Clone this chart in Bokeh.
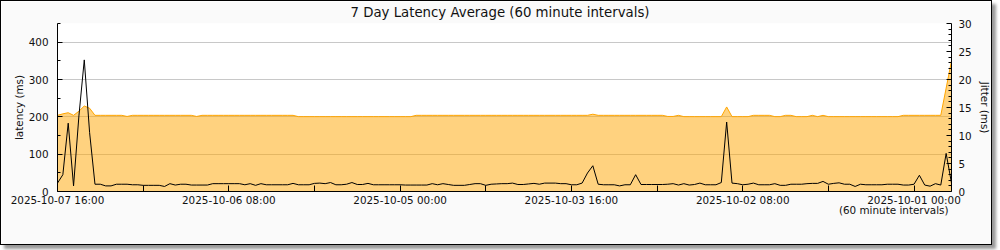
import pandas as pd
from bokeh.plotting import figure
from bokeh.models import (Range1d, LinearAxis, FixedTicker, DatetimeTickFormatter,
                          Title, ColumnDataSource)
from bokeh.embed import file_html
from bokeh.resources import INLINE

# ---- data (hourly, newest on the left) ----
times = pd.date_range(end="2025-10-07 16:00", periods=168, freq="h")[::-1]

latency = [
    204, 208, 211, 204, 215, 229, 223, 204, 204, 204,
    204, 204, 204, 201, 204, 204, 204, 204, 204, 204,
    204, 204, 204, 204, 204, 204, 201, 204, 204, 204,
    204, 204, 204, 204, 204, 204, 204, 204, 204, 204,
    204, 204, 204, 204, 204, 200.5, 200.5, 200.5, 200.5, 200.5,
    200.5, 200.5, 200.5, 200.5, 200.5, 200.5, 200.5, 200.5, 200.5, 200.5,
    200.5, 200.5, 200.5, 200.5, 200.5, 200.5, 200.5, 204, 204, 204,
    204, 204, 204, 204, 204, 204, 204, 204, 204, 204,
    204, 204, 204, 204, 204, 204, 204, 204, 204, 204,
    204, 204, 204, 204, 204, 204, 204, 204, 204, 204,
    207, 204, 204, 204, 204, 204, 204, 204, 204, 204,
    204, 204, 204, 204, 201, 201, 204, 200.5, 200.5, 200.5,
    200.5, 200.5, 200.5, 200.5, 200.5, 226.5, 200.5, 200.5, 200.5, 200.5,
    204, 204, 204, 204, 200.5, 200.5, 204, 204, 200.5, 200.5,
    200.5, 204, 200.5, 204, 200.5, 200.5, 200.5, 200.5, 200.5, 200.5,
    200.5, 200.5, 200.5, 200.5, 200.5, 200.5, 200.5, 200.5, 204, 204,
    204, 204, 204, 204, 204, 204, 277, 350,
]

jitter = [
    1.5, 3.0, 12.2, 1.0, 13.5, 23.5, 10.5, 1.3, 1.3, 1.0,
    1.0, 1.3, 1.3, 1.3, 1.2, 1.2, 1.1, 1.1, 1.1, 1.1,
    0.9, 1.4, 1.15, 1.3, 1.3, 1.15, 1.15, 1.15, 1.15, 1.4,
    1.4, 1.4, 1.4, 1.4, 1.4, 1.2, 1.4, 1.1, 1.4, 1.2,
    1.2, 1.2, 1.2, 1.2, 1.45, 1.2, 1.2, 1.2, 1.45, 1.5,
    1.4, 1.6, 1.2, 1.2, 1.3, 1.6, 1.25, 1.25, 1.45, 1.2,
    1.2, 1.2, 1.2, 1.2, 1.2, 1.15, 1.15, 1.15, 1.15, 1.15,
    1.4, 1.2, 1.4, 1.25, 1.1, 1.1, 1.1, 1.25, 1.4, 1.4,
    1.1, 1.3, 1.35, 1.4, 1.4, 1.5, 1.25, 1.25, 1.35, 1.45,
    1.3, 1.5, 1.5, 1.5, 1.4, 1.4, 1.2, 1.2, 1.5, 3.3,
    4.6, 1.3, 1.2, 1.2, 1.2, 1.0, 1.2, 1.2, 3.0, 1.25,
    1.25, 1.25, 1.25, 1.25, 1.3, 1.4, 1.15, 1.4, 1.15, 1.25,
    1.5, 1.2, 1.2, 1.2, 1.6, 12.4, 1.5, 1.4, 1.2, 1.3,
    1.5, 1.2, 1.2, 1.2, 1.4, 1.1, 1.1, 1.3, 1.3, 1.3,
    1.4, 1.45, 1.45, 1.8, 1.3, 1.45, 1.55, 1.3, 1.3, 0.9,
    1.3, 1.2, 1.2, 1.2, 1.2, 1.3, 1.3, 1.3, 1.15, 1.15,
    1.3, 2.9, 1.15, 0.95, 1.4, 1.15, 6.8, 1.5,
]

x_label_times = ["2025-10-07 16:00", "2025-10-06 08:00", "2025-10-05 00:00",
                 "2025-10-03 16:00", "2025-10-02 08:00", "2025-10-01 00:00"]
x_minor_times = ["2025-10-07 00:00", "2025-10-05 16:00", "2025-10-04 08:00",
                 "2025-10-03 00:00", "2025-10-01 16:00"]
lat_ticks = [0, 100, 200, 300, 400]
lat_minor = [50, 150, 250, 350, 450]
jit_ticks = [0, 5, 10, 15, 20, 25, 30]
jit_minor = [v for v in range(0, 31) if v % 5 != 0]

FONT = "DejaVu Sans"
FS = "10.4px"
TXT = "#111111"

def ms(s):
    return pd.Timestamp(s).value / 1e6

src = ColumnDataSource(dict(t=times, lat=latency, jit=jitter))

p = figure(width=992, height=245, x_axis_type="datetime",
           x_range=Range1d(times[0], times[-1]), y_range=Range1d(0, 450),
           output_backend="svg", toolbar_location=None,
           min_border_left=56, min_border_right=42, min_border_top=22,
           min_border_bottom=55,
           background_fill_color="white", border_fill_color="#FAFAFA",
           outline_line_color=None,
           styles={"border": "1px solid black",
                   "box-shadow": "4px 4px 3px #999999"})
p.extra_y_ranges = {"jitter": Range1d(0, 30)}

p.title.text = "7 Day Latency Average (60 minute intervals)"
p.title.align = "left"
p.title.offset = 293
p.title.vertical_align = "top"
p.title.text_font = FONT
p.title.text_font_size = "13.3px"
p.title.text_font_style = "normal"
p.title.text_color = TXT
p.title.standoff = 3

p.varea(x="t", y1=0, y2="lat", source=src, fill_color="#FFA500", fill_alpha=0.5)
p.line(x="t", y="lat", source=src, line_color="#FFA500", line_width=1)
p.line(x="t", y="jit", source=src, y_range_name="jitter", line_color="black",
       line_width=1)

# x axis
xa = p.xaxis[0]
xa.ticker = FixedTicker(ticks=[ms(s) for s in x_label_times],
                        minor_ticks=[ms(s) for s in x_minor_times])
fmt = "%Y-%m-%d %H:%M"
xa.formatter = DatetimeTickFormatter(microseconds=fmt, milliseconds=fmt, seconds=fmt,
                                     minsec=fmt, minutes=fmt, hourmin=fmt, hours=fmt,
                                     days=fmt, months=fmt, years=fmt)
# left axis
ya = p.yaxis[0]
ya.ticker = FixedTicker(ticks=lat_ticks, minor_ticks=lat_minor)
ya.axis_label = "latency (ms)"

ra = LinearAxis(y_range_name="jitter",
                ticker=FixedTicker(ticks=jit_ticks, minor_ticks=jit_minor),
                axis_label="Jitter (ms)", axis_label_orientation="vertical")
p.add_layout(ra, "right")

for ax in (xa, ya, ra):
    ax.axis_line_color = "black"
    ax.major_tick_line_color = "black"
    ax.minor_tick_line_color = "black"
    ax.major_tick_out = 0
    ax.minor_tick_out = 0
    ax.major_label_text_font = FONT
    ax.major_label_text_font_size = FS
    ax.major_label_text_color = TXT
    ax.axis_label_text_font = FONT
    ax.axis_label_text_font_size = FS
    ax.axis_label_text_font_style = "normal"
    ax.axis_label_text_color = TXT

xa.major_tick_in = 6
xa.minor_tick_in = 6
xa.major_label_standoff = 2
ya.major_tick_in = 5
ya.minor_tick_in = 3
ya.major_label_standoff = 9
ya.axis_label_standoff = 1
ra.major_tick_in = 5
ra.minor_tick_in = 3
ra.major_label_standoff = 7
ra.axis_label_standoff = 4

p.xgrid.visible = False
p.ygrid.grid_line_color = "#C8C8C8"
p.ygrid.ticker = FixedTicker(ticks=[100, 200, 300, 400])

foot = Title(text="(60 minute intervals)", align="right", offset=3,
             vertical_align="top", text_font=FONT,
             text_font_size=FS, text_font_style="normal", text_color=TXT)
try:
    foot.standoff = -10
except Exception:
    foot.standoff = 0
p.add_layout(foot, "below")

open("out.html", "w").write(file_html(p, INLINE))
